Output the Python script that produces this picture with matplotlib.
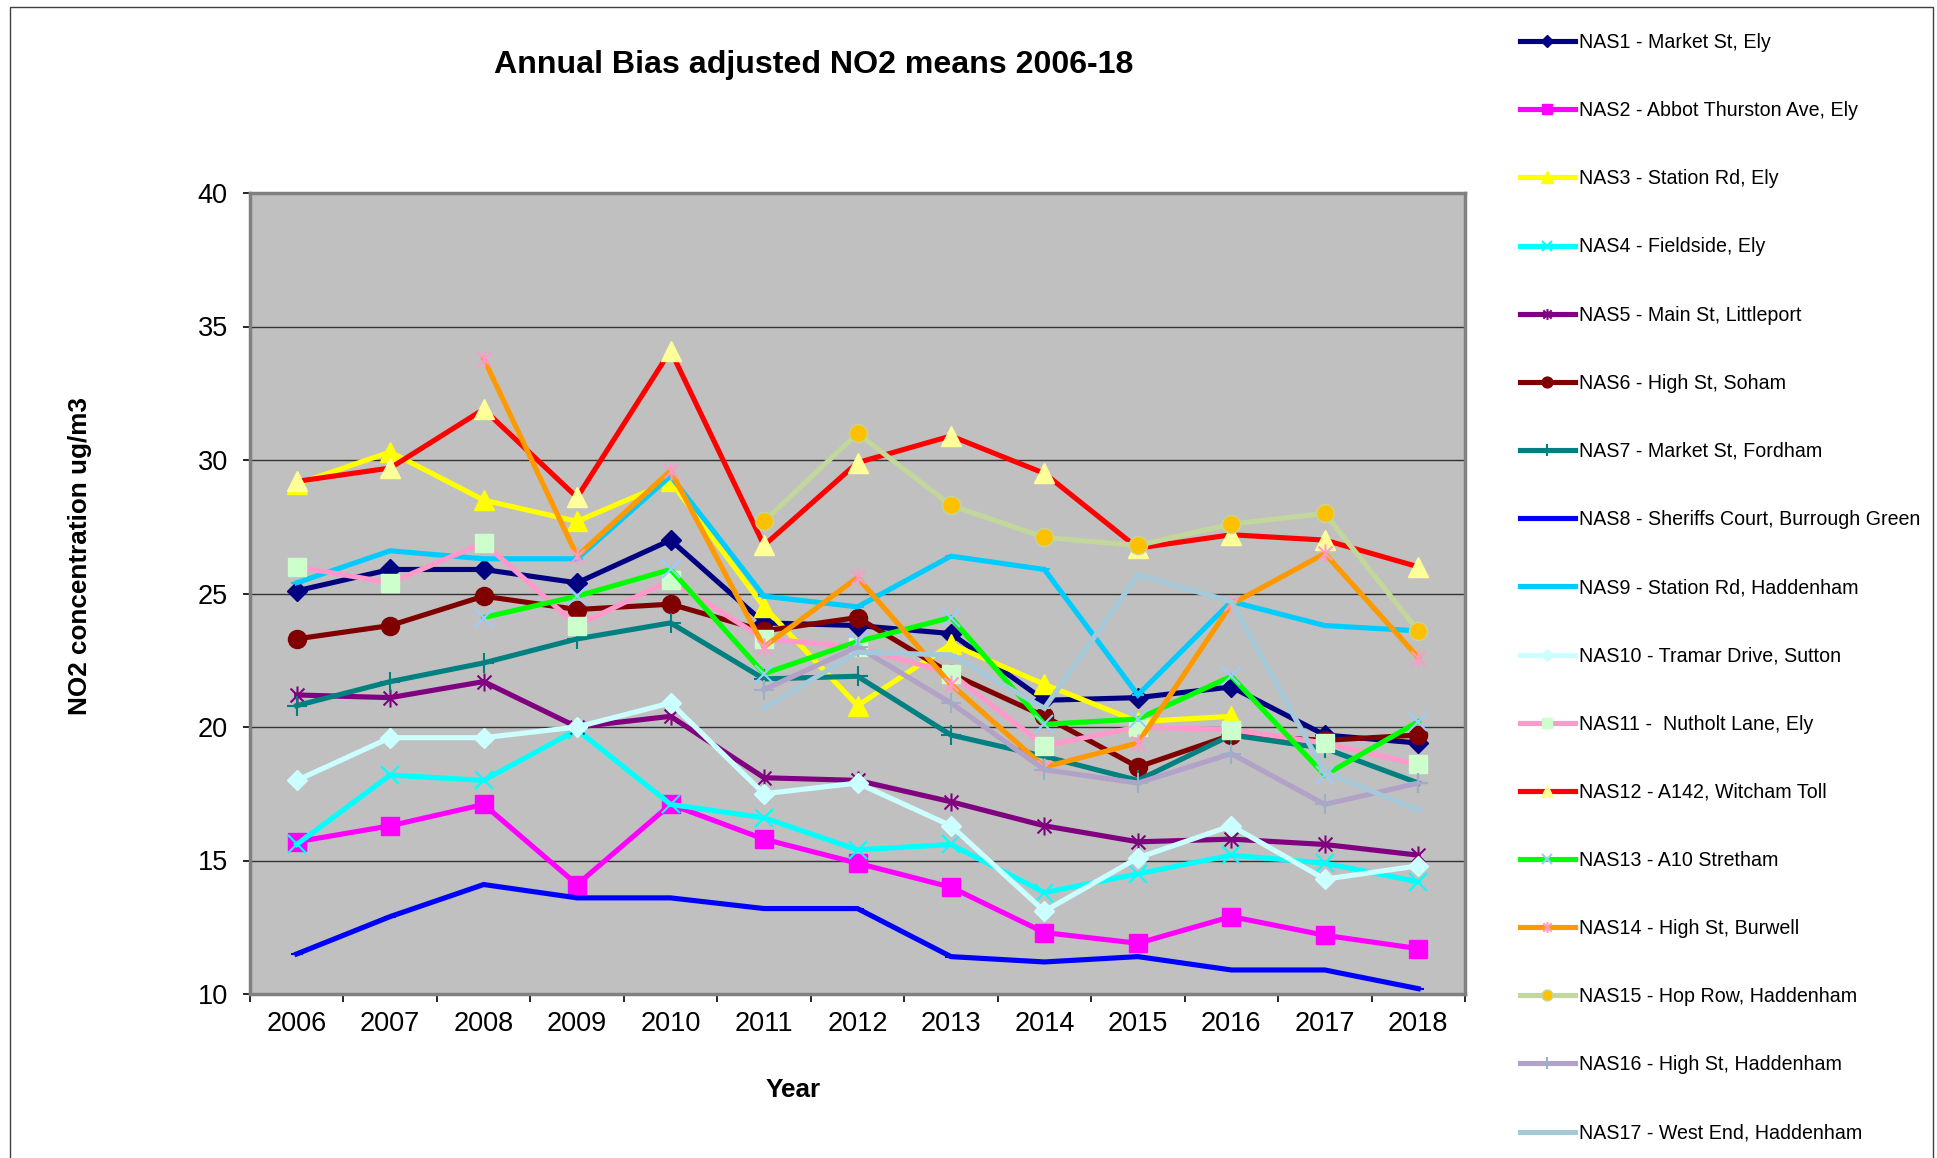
import matplotlib
matplotlib.use("Agg")
import matplotlib.pyplot as plt
import numpy as np
from matplotlib.path import Path
from matplotlib.patches import Rectangle

nan = np.nan

# Annual bias adjusted NO2 means (ug/m3)
years = ["2006", "2007", "2008", "2009", "2010", "2011", "2012",
         "2013", "2014", "2015", "2016", "2017", "2018"]

nas1 = [25.1, 25.9, 25.9, 25.4, 27.0, 23.9, 23.8, 23.5, 21.0, 21.1, 21.5, 19.7, 19.4]
nas2 = [15.7, 16.3, 17.1, 14.1, 17.1, 15.8, 14.9, 14.0, 12.3, 11.9, 12.9, 12.2, 11.7]
nas3 = [29.1, 30.3, 28.5, 27.7, 29.2, 24.5, 20.8, 23.1, 21.6, 20.2, 20.4, nan, nan]
nas4 = [15.6, 18.2, 18.0, 19.9, 17.1, 16.6, 15.4, 15.6, 13.8, 14.5, 15.2, 14.9, 14.2]
nas5 = [21.2, 21.1, 21.7, 20.0, 20.4, 18.1, 18.0, 17.2, 16.3, 15.7, 15.8, 15.6, 15.2]
nas6 = [23.3, 23.8, 24.9, 24.4, 24.6, 23.6, 24.1, 22.0, 20.4, 18.5, 19.7, 19.5, 19.7]
nas7 = [20.8, 21.7, 22.4, 23.3, 23.9, 21.8, 21.9, 19.7, 18.9, 18.0, 19.7, 19.2, 17.9]
nas8 = [11.5, 12.9, 14.1, 13.6, 13.6, 13.2, 13.2, 11.4, 11.2, 11.4, 10.9, 10.9, 10.2]
nas9 = [25.4, 26.6, 26.3, 26.3, 29.4, 24.9, 24.5, 26.4, 25.9, 21.2, 24.7, 23.8, 23.6]
nas10 = [18.0, 19.6, 19.6, 20.0, 20.9, 17.5, 17.9, 16.3, 13.1, 15.1, 16.3, 14.3, 14.8]
nas11 = [26.0, 25.4, 26.9, 23.8, 25.5, 23.3, 23.0, 22.0, 19.3, 20.0, 19.9, 19.4, 18.6]
nas12 = [29.2, 29.7, 31.9, 28.6, 34.1, 26.8, 29.9, 30.9, 29.5, 26.7, 27.2, 27.0, 26.0]
nas13 = [nan, nan, 24.1, 24.9, 25.9, 22.0, 23.2, 24.1, 20.1, 20.3, 21.9, 18.2, 20.2]
nas14 = [nan, nan, 33.8, 26.4, 29.6, 23.0, 25.6, 21.6, 18.5, 19.4, 24.6, 26.5, 22.6]
nas15 = [nan, nan, nan, nan, nan, 27.7, 31.0, 28.3, 27.1, 26.8, 27.6, 28.0, 23.6]
nas16 = [nan, nan, nan, nan, nan, 21.4, 23.0, 20.9, 18.4, 17.9, 19.0, 17.1, 17.9]
nas17 = [nan, nan, nan, nan, nan, 20.7, 22.8, 22.7, 20.7, 25.7, 24.7, 18.3, 16.9]

labels = [
    "NAS1 - Market St, Ely",
    "NAS2 - Abbot Thurston Ave, Ely",
    "NAS3 - Station Rd, Ely",
    "NAS4 - Fieldside, Ely",
    "NAS5 - Main St, Littleport",
    "NAS6 - High St, Soham",
    "NAS7 - Market St, Fordham",
    "NAS8 - Sheriffs Court, Burrough Green",
    "NAS9 - Station Rd, Haddenham",
    "NAS10 - Tramar Drive, Sutton",
    "NAS11 -  Nutholt Lane, Ely",
    "NAS12 - A142, Witcham Toll",
    "NAS13 - A10 Stretham",
    "NAS14 - High St, Burwell",
    "NAS15 - Hop Row, Haddenham",
    "NAS16 - High St, Haddenham",
    "NAS17 - West End, Haddenham",
]

# Excel-style "star" marker: an x with a vertical bar through it
star = Path([(-1, -1), (1, 1), (-1, 1), (1, -1), (0, -1.3), (0, 1.3)],
            [Path.MOVETO, Path.LINETO, Path.MOVETO, Path.LINETO, Path.MOVETO, Path.LINETO])

# (line colour, marker, marker face, marker edge, marker size)
styles = [
    ("#000080", "D", "#000080", "#000080", 10),
    ("#FF00FF", "s", "#FF00FF", "#FF00FF", 13),
    ("#FFFF00", "^", "#FFFF00", "#FFFF00", 14),
    ("#00FFFF", "x", "#00FFFF", "#00FFFF", 13),
    ("#800080", star, "#800080", "#800080", 13),
    ("#800000", "o", "#800000", "#800000", 13),
    ("#008080", "+", "#008080", "#008080", 14),
    ("#0000FF", "_", "#0000FF", "#0000FF", 9),
    ("#00CCFF", "_", "#00CCFF", "#00CCFF", 9),
    ("#CCFFFF", "D", "#CCFFFF", "#CCFFFF", 10),
    ("#FF99CC", "s", "#CCFFCC", "#CCFFCC", 13),
    ("#FF0000", "^", "#FFFF99", "#FFFF99", 14),
    ("#00FF00", "x", "#99CCFF", "#99CCFF", 13),
    ("#FF9900", star, "#FF99CC", "#FF99CC", 13),
    ("#C3D69B", "o", "#FFC000", "#C3D69B", 13),
    ("#B3A2C7", "+", "#9DAFC8", "#9DAFC8", 14),
    ("#A6C9D9", "_", "#A6C9D9", "#A6C9D9", 9),
]

series = [nas1, nas2, nas3, nas4, nas5, nas6, nas7, nas8, nas9,
          nas10, nas11, nas12, nas13, nas14, nas15, nas16, nas17]

plt.rcParams['font.family'] = ['Liberation Sans', 'DejaVu Sans']

W, H = 1937, 1158
fig = plt.figure(figsize=(W / 100, H / 100), dpi=100)
fig.patch.set_facecolor("white")

ax = fig.add_axes([250 / W, 1 - 994 / H, (1465 - 250) / W, (994 - 193) / H])
ax.set_facecolor("#C0C0C0")

x = np.arange(len(years))
handles = []
for vals, (col, mk, mfc, mec, ms) in zip(series, styles):
    thin = mk in ("x", "+", "_") or mk is star
    h, = ax.plot(x, np.array(vals, dtype=float), color=col, lw=3.7,
                 marker=mk, markersize=ms, markerfacecolor=mfc,
                 markeredgecolor=mec, markeredgewidth=1.5 if thin else 1.0,
                 solid_joinstyle="miter", zorder=3)
    handles.append(h)

ax.set_xlim(-0.5, len(years) - 0.5)
ax.set_ylim(10, 40)
ax.set_yticks(np.arange(10, 41, 5))
ax.set_xticks(x)
ax.set_xticklabels(years)
ax.set_xticks(np.arange(-0.5, len(years), 1), minor=True)
ax.tick_params(axis="x", which="major", length=0, pad=12, labelsize=19.5)
ax.tick_params(axis="x", which="minor", length=6, width=1.2, direction="out")
ax.tick_params(axis="y", length=5, width=1.2, pad=11, labelsize=19.5)

ax.yaxis.grid(True, color="#333333", lw=1.0)
ax.set_axisbelow(True)
for sp in ax.spines.values():
    sp.set_color("#808080")
    sp.set_linewidth(2.5)

fig.text(814 / W, 1 - 65 / H, "Annual Bias adjusted NO2 means 2006-18",
         ha="center", va="center", fontsize=23.1, fontweight="bold")
fig.text(80 / W, 1 - 556 / H, "NO2 concentration ug/m3", rotation=90,
         ha="center", va="center", fontsize=18.8, fontweight="bold")
fig.text(793 / W, 1 - 1090 / H, "Year", ha="center", va="center",
         fontsize=18.8, fontweight="bold")

fig.legend(handles, labels, loc="upper left",
           bbox_to_anchor=(1520 / W, 1 - 33 / H), frameon=False,
           fontsize=14.1, handlelength=2.8, handletextpad=0.2,
           labelspacing=2.51, borderpad=0, borderaxespad=0, markerscale=0.6)

# outer chart frame
fig.patches.append(Rectangle((10 / W, -0.02), (1933 - 10) / W, 1.02 - 7 / H,
                             transform=fig.transFigure, fill=False,
                             ec="#404040", lw=1.0))

fig.savefig("out.png", dpi=100, facecolor="white")
